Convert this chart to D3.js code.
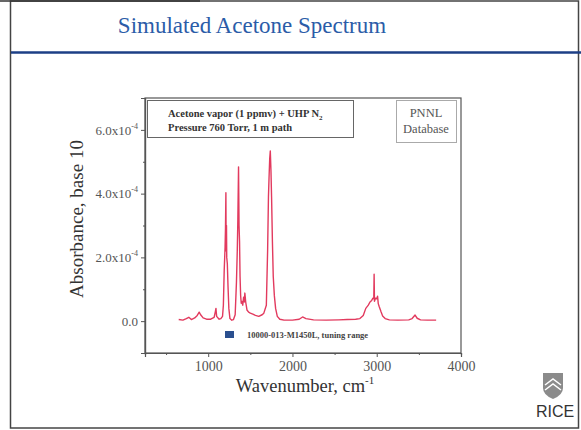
<!DOCTYPE html>
<html>
<head>
<meta charset="utf-8">
<script src="https://cdn.jsdelivr.net/npm/d3@7"></script>
<style>
  body { margin: 0; background: #fff; }
  svg text { font-family: "Liberation Serif", "Times New Roman", serif; }
  svg text.sans { font-family: "Liberation Sans", Arial, sans-serif; }
</style>
</head>
<body>
<div id="draw"></div>
<script>
// spectrum: wavenumber (cm-1) and absorbance (x1e-4)
var wavenumbers = [650, 700, 740, 770, 800, 840, 870, 893, 910, 940, 980, 1030, 1070, 1085, 1092, 1100,
  1130, 1150, 1170, 1180, 1190, 1200, 1205, 1210, 1213, 1217, 1220, 1227, 1235, 1245, 1258, 1280, 1300,
  1320, 1335, 1345, 1352, 1360, 1366, 1372, 1378, 1385, 1392, 1400, 1410, 1420, 1428, 1435, 1445, 1460,
  1480, 1500, 1530, 1560, 1600, 1640, 1660, 1690, 1705, 1715, 1722, 1730, 1737, 1745, 1752, 1762, 1772,
  1785, 1800, 1820, 1850, 1900, 2000, 2080, 2120, 2160, 2250, 2400, 2550, 2650, 2750, 2800, 2840, 2870,
  2900, 2920, 2940, 2955, 2965, 2969, 2973, 2985, 3000, 3010, 3018, 3030, 3050, 3070, 3100, 3150, 3250,
  3380, 3420, 3455, 3480, 3520, 3600, 3705];
var absorbance = [0.05, 0.03, 0.08, 0.12, 0.05, 0.1, 0.18, 0.28, 0.2, 0.1, 0.06, 0.06, 0.12, 0.3, 0.4, 0.15,
  0.06, 0.08, 0.15, 0.5, 1.6, 2.3, 2.9, 4.03, 2.2, 3.0, 2.0, 1.8, 1.1, 0.4, 0.08, 0.03, 0.05,
  0.2, 1.2, 2.2, 3.2, 4.84, 3.0, 2.5, 1.4, 0.8, 0.56, 0.62, 0.5, 0.75, 0.6, 0.88, 0.6, 0.35,
  0.28, 0.25, 0.22, 0.18, 0.15, 0.2, 0.25, 0.5, 2.2, 3.9, 4.5, 5.1, 5.34, 4.7, 3.9, 2.5, 1.4,
  0.8, 0.4, 0.15, 0.06, 0.03, 0.03, 0.06, 0.13, 0.08, 0.04, 0.03, 0.04, 0.05, 0.06, 0.08, 0.18, 0.4,
  0.5, 0.6, 0.65, 0.72, 0.7, 1.47, 0.62, 0.72, 0.7, 0.78, 0.55, 0.45, 0.3, 0.16, 0.08, 0.04, 0.03,
  0.04, 0.08, 0.19, 0.09, 0.04, 0.03, 0.03];

var xMajor = [1000, 2000, 3000, 4000];
var xMinor = [500, 1500, 2500, 3500];
var yMajor = [0, 2e-4, 4e-4, 6e-4];
var yLabels = ["0.0", "2.0x10", "4.0x10", "6.0x10"];
var yMinor = [1e-4, 3e-4, 5e-4];

var points = wavenumbers.map(function(w, i){ return { wn: w, a: absorbance[i] * 1e-4 }; });

var svg = d3.select('#draw').append('svg')
    .attr('width', 581).attr('height', 430);

// slide frame
svg.append('rect').attr('x', 10.5).attr('y', 1).attr('width', 568).attr('height', 427)
    .attr('fill', 'none').attr('stroke', '#444').attr('stroke-width', 1.5);
svg.append('line').attr('x1', 0).attr('x2', 200).attr('y1', 1).attr('y2', 1)
    .attr('stroke', '#333').attr('stroke-width', 1.5);
svg.append('line').attr('x1', 11).attr('x2', 581).attr('y1', 52.5).attr('y2', 52.5)
    .attr('stroke', '#1d3f86').attr('stroke-width', 2.5);

svg.append('text').attr('x', 252).attr('y', 33).attr('text-anchor', 'middle')
    .attr('font-size', 23).attr('fill', '#2b5ca8').text('Simulated Acetone Spectrum');

var x = d3.scaleLinear().domain([250, 4000]).range([145, 461]);
var y = d3.scaleLinear().domain([-1e-4, 7e-4]).range([353, 98]);

// plot box
svg.append('rect').attr('x', 145).attr('y', 98).attr('width', 316).attr('height', 255)
    .attr('fill', 'none').attr('stroke', '#555').attr('stroke-width', 1.2);

var gx = svg.append('g').attr('transform', 'translate(0,353)')
    .call(d3.axisBottom(x).tickValues(xMajor).tickSize(4).tickPadding(4).tickFormat(d3.format('d')));
svg.append('g').attr('transform', 'translate(0,353)')
    .call(d3.axisBottom(x).tickValues(xMinor).tickSize(2).tickFormat(''));

var gy = svg.append('g').attr('transform', 'translate(145,0)')
    .call(d3.axisLeft(y).tickValues(yMajor).tickSize(4).tickPadding(3)
      .tickFormat(function(d, i){ return yLabels[i]; }));
svg.append('g').attr('transform', 'translate(145,0)')
    .call(d3.axisLeft(y).tickValues(yMinor).tickSize(2).tickFormat(''));

svg.selectAll('.domain').attr('stroke', '#555').attr('stroke-width', 1.2);
svg.selectAll('.tick line').attr('stroke', '#555');
gx.selectAll('text').attr('font-size', 14).attr('fill', '#555');
gy.selectAll('text').attr('font-size', 13).attr('fill', '#555')
    .each(function(d){
      if (d !== 0) {
        d3.select(this).append('tspan').attr('dy', -6).attr('font-size', 8).text('-4');
      }
    });

// spectrum
var line = d3.line().x(function(d){ return x(d.wn); }).y(function(d){ return y(d.a); });
svg.append('path').datum(points).attr('d', line)
    .attr('fill', 'none').attr('stroke', '#e23a5e').attr('stroke-width', 1.4)
    .attr('stroke-linejoin', 'round');

// annotation boxes
svg.append('rect').attr('x', 147.5).attr('y', 100.5).attr('width', 206).attr('height', 37)
    .attr('fill', '#fff').attr('stroke', '#666').attr('stroke-width', 1);
var note = svg.append('text').attr('font-size', 10.5).attr('font-weight', 'bold').attr('fill', '#333');
note.append('tspan').attr('x', 168).attr('y', 117).text('Acetone vapor (1 ppmv) + UHP N');
note.append('tspan').attr('dy', 3).attr('font-size', 7).text('2');
svg.append('text').attr('x', 168).attr('y', 131).attr('font-size', 10.5).attr('font-weight', 'bold')
    .attr('fill', '#333').text('Pressure  760 Torr, 1 m path');

svg.append('rect').attr('x', 396.5).attr('y', 100.5).attr('width', 60).attr('height', 42)
    .attr('fill', '#fff').attr('stroke', '#aaa').attr('stroke-width', 1);
svg.append('text').attr('x', 426).attr('y', 117).attr('text-anchor', 'middle')
    .attr('font-size', 12.5).attr('fill', '#555').text('PNNL');
svg.append('text').attr('x', 426).attr('y', 133).attr('text-anchor', 'middle')
    .attr('font-size', 12.5).attr('fill', '#555').text('Database');

// legend
svg.append('rect').attr('x', 225).attr('y', 331).attr('width', 9).attr('height', 7).attr('fill', '#2a4f8f');
svg.append('text').attr('x', 247).attr('y', 338).attr('font-size', 8.5).attr('font-weight', 'bold')
    .attr('fill', '#444').text('10000-013-M1450L, tuning range');

// axis titles
var xt = svg.append('text').attr('x', 305).attr('y', 392).attr('text-anchor', 'middle')
    .attr('font-size', 18.5).attr('fill', '#333');
xt.append('tspan').text('Wavenumber, cm');
xt.append('tspan').attr('dy', -8).attr('font-size', 11).text('-1');

svg.append('text').attr('transform', 'translate(83,219) rotate(-90)').attr('text-anchor', 'middle')
    .attr('font-size', 19).attr('fill', '#333').text('Absorbance, base 10');

// RICE logo
svg.append('path').attr('d', 'M543,373 L563,373 L563,388 Q563,395 553,399 Q543,395 543,388 Z')
    .attr('fill', '#8b8b8b');
svg.append('path').attr('d', 'M545,385 L553,379 L561,385 M545,390 L553,384 L561,390')
    .attr('fill', 'none').attr('stroke', '#fff').attr('stroke-width', 1.5);
svg.append('text').attr('class', 'sans').attr('x', 555).attr('y', 417).attr('text-anchor', 'middle')
    .attr('font-size', 16).attr('fill', '#333').text('RICE');
</script>
</body>
</html>
